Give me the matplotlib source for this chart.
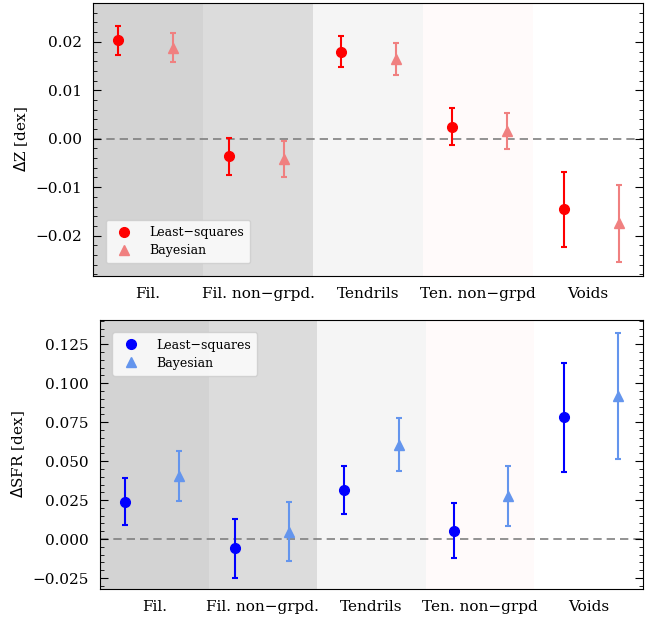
import matplotlib
matplotlib.use("Agg")
import matplotlib.pyplot as plt
from matplotlib.ticker import MultipleLocator

plt.rcParams['font.family'] = ['DejaVu Serif']
plt.rcParams['mathtext.fontset'] = 'dejavusans'

categories = ["Fil.", "Fil. non\u2212grpd.", "Tendrils", "Ten. non\u2212grpd", "Voids"]
band_colors = ["lightgrey", "gainsboro", "whitesmoke", "snow", "white"]

z_ls = [0.0203, -0.0036, 0.0180, 0.0025, -0.0146]
z_ls_err = [0.0030, 0.0038, 0.0032, 0.0038, 0.0077]
z_bay = [0.0188, -0.0042, 0.0164, 0.0016, -0.0175]
z_bay_err = [0.0030, 0.0038, 0.0033, 0.0037, 0.0079]

sfr_ls = [0.0241, -0.0060, 0.0312, 0.0054, 0.0780]
sfr_ls_err = [0.0148, 0.0190, 0.0154, 0.0176, 0.0348]
sfr_bay = [0.0403, 0.0047, 0.0604, 0.0278, 0.0918]
sfr_bay_err = [0.0160, 0.0190, 0.0170, 0.0193, 0.0404]

fig = plt.figure(figsize=(6.6, 6.17), dpi=100)
ax1 = fig.add_axes([0.141, 0.553, 0.833, 0.442])
ax2 = fig.add_axes([0.1515, 0.0454, 0.8225, 0.436])

def panel(ax, ls, ls_err, bay, bay_err, c1, c2, ylim, major, minor, ylabel, loc, step, center):
    n = len(categories)
    for i in range(n):
        ax.axvspan(i, i + 1, color=band_colors[i], lw=0, zorder=0)
    ax.axhline(0, color="grey", ls=(0, (5, 3)), lw=1.2, zorder=1)
    xs_ls = [center + step * i - 0.25 for i in range(n)]
    xs_bay = [center + step * i + 0.25 for i in range(n)]
    e1 = ax.errorbar(xs_ls, ls, yerr=ls_err, fmt="o", color=c1, ms=7, capsize=2.5,
                     elinewidth=1.5, capthick=1.5, label="Least\u2212squares", zorder=3)
    e2 = ax.errorbar(xs_bay, bay, yerr=bay_err, fmt="^", color=c2, ms=7, capsize=2.5,
                     elinewidth=1.5, capthick=1.5, label="Bayesian", zorder=3)
    ax.set_xlim(0, n)
    ax.set_ylim(*ylim)
    ax.set_xticks([i + 0.5 for i in range(n)])
    ax.set_xticklabels(categories, fontsize=11)
    ax.tick_params(axis="x", length=0, pad=8)
    ax.yaxis.set_major_locator(MultipleLocator(major))
    ax.yaxis.set_minor_locator(MultipleLocator(minor))
    ax.tick_params(axis="y", which="both", direction="in", left=True, right=True,
                   labelsize=11, pad=8)
    ax.tick_params(axis="y", which="major", length=6)
    ax.tick_params(axis="y", which="minor", length=3)
    ax.set_ylabel(ylabel, fontsize=11)
    leg = ax.legend(handles=[e1[0], e2[0]], labels=["Least\u2212squares", "Bayesian"],
                    loc=loc, fontsize=9, handletextpad=1.0, borderpad=0.5,
                    labelspacing=0.4, borderaxespad=1.0)
    leg.get_frame().set_edgecolor("#cccccc")

panel(ax1, z_ls, z_ls_err, z_bay, z_bay_err, "red", "lightcoral",
      (-0.0283, 0.028), 0.01, 0.002, r"$\Delta$Z [dex]", "lower left", 1.013, 0.477)
panel(ax2, sfr_ls, sfr_ls_err, sfr_bay, sfr_bay_err, "blue", "cornflowerblue",
      (-0.032, 0.1405), 0.025, 0.005, r"$\Delta$SFR [dex]", "upper left", 1.010, 0.482)

fig.savefig("out.png", dpi=100)
